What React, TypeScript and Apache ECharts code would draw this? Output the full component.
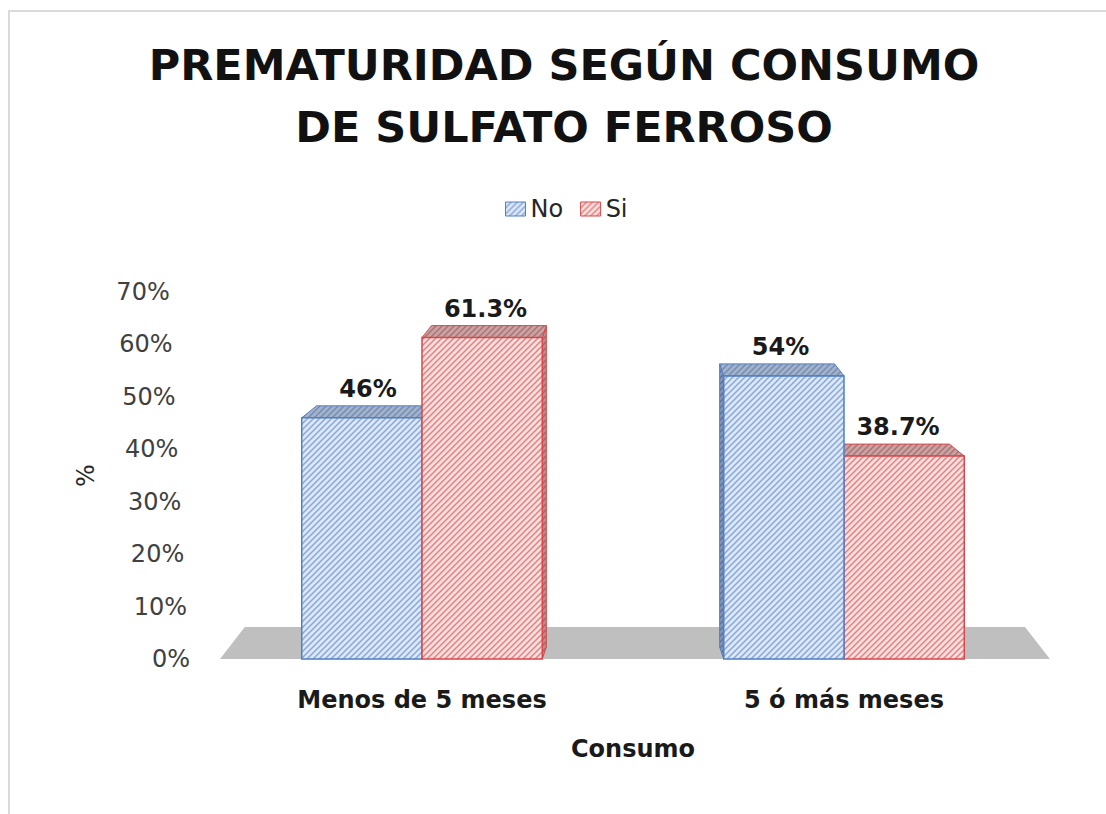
import React, { useEffect, useRef } from 'react';
import * as echarts from 'echarts';

const categories = ['Menos de 5 meses', '5 ó más meses'];
const seriesNames = ['No', 'Si'];
const noValues = [46, 54];
const siValues = [61.3, 38.7];
const yTicks = [0, 10, 20, 30, 40, 50, 60, 70];

const FONT = 'DejaVu Sans';
const PERSP = 0.955;
const DEPTH = -12;

function makePattern(bg: string, line: string, size = 6, lw = 1.5) {
  const c = document.createElement('canvas');
  c.width = size;
  c.height = size;
  const ctx = c.getContext('2d') as CanvasRenderingContext2D;
  ctx.fillStyle = bg;
  ctx.fillRect(0, 0, size, size);
  ctx.strokeStyle = line;
  ctx.lineWidth = lw;
  ctx.beginPath();
  ctx.moveTo(0, size);
  ctx.lineTo(size, 0);
  ctx.moveTo(-1, 1);
  ctx.lineTo(1, -1);
  ctx.moveTo(size - 1, size + 1);
  ctx.lineTo(size + 1, size - 1);
  ctx.stroke();
  return { image: c, repeat: 'repeat' };
}

export default function App() {
  const ref = useRef<HTMLDivElement>(null);
  useEffect(() => {
    if (!ref.current) return;
    const chart = echarts.init(ref.current, null, { renderer: 'svg' });

    const styles = [
      {
        front: makePattern('#dde7f5', '#86a8dc'),
        top: makePattern('#a3b3cc', '#778cb0'),
        side: makePattern('#7f95bb', '#5a72a0'),
        border: '#4f7fc4',
      },
      {
        front: makePattern('#fbe0e0', '#e48080'),
        top: makePattern('#cba3a3', '#a87474'),
        side: makePattern('#b88f8f', '#9a6a6a'),
        border: '#d9474a',
      },
    ];

    const barRender = (k: number) => (params: any, api: any) => {
      const cs = params.coordSys;
      const cx = cs.x + cs.width / 2;
      const catIdx = api.value(0);
      const val = api.value(1);
      const top = api.coord([catIdx, val]);
      const base = api.coord([catIdx, 0]);
      const bandW = api.size([1, 0])[0];
      const bw = bandW * 0.285;
      const x0 = top[0] + (k === 0 ? -bw : 0);
      const x1 = x0 + bw;
      const yt = top[1];
      const yb = base[1];
      const bx0 = cx + (x0 - cx) * PERSP;
      const bx1 = cx + (x1 - cx) * PERSP;
      const dist = Math.abs((x0 + x1) / 2 - cx);
      const z = Math.round(2000 - dist) * 3;
      const st = styles[k];
      const children: any[] = [];
      if (x1 < cx) {
        children.push({
          type: 'polygon',
          z2: z,
          shape: { points: [[x1, yt], [bx1, yt + DEPTH], [bx1, yb + DEPTH], [x1, yb]] },
          style: { fill: st.side, stroke: st.border, lineWidth: 1 },
        });
      } else if (x0 > cx) {
        children.push({
          type: 'polygon',
          z2: z,
          shape: { points: [[x0, yt], [bx0, yt + DEPTH], [bx0, yb + DEPTH], [x0, yb]] },
          style: { fill: st.side, stroke: st.border, lineWidth: 1 },
        });
      }
      children.push({
        type: 'polygon',
        z2: z + 1,
        shape: { points: [[x0, yt], [x1, yt], [bx1, yt + DEPTH], [bx0, yt + DEPTH]] },
        style: { fill: st.top, stroke: st.border, lineWidth: 1 },
      });
      children.push({
        type: 'rect',
        z2: z + 2,
        shape: { x: x0, y: yt, width: bw, height: yb - yt },
        style: { fill: st.front, stroke: st.border, lineWidth: 1.5 },
      });
      children.push({
        type: 'text',
        z2: 100000,
        style: {
          text: val + '%',
          x: (x0 + x1 + bx0 + bx1) / 4,
          y: yt + DEPTH - 5,
          align: 'center',
          verticalAlign: 'bottom',
          fontSize: 24,
          fontWeight: 'bold',
          fontFamily: FONT,
          fill: '#1a1a1a',
        },
      });
      return { type: 'group', children };
    };

    const floorRender = (params: any, api: any) => {
      const cs = params.coordSys;
      const yb = api.coord([0, 0])[1];
      const cx = cs.x + cs.width / 2;
      const fx0 = cs.x + 9;
      const fx1 = cs.x + cs.width - 5;
      const s = 0.94;
      const d = -32;
      return {
        type: 'polygon',
        shape: {
          points: [
            [fx0, yb],
            [fx1, yb],
            [cx + (fx1 - cx) * s, yb + d],
            [cx + (fx0 - cx) * s, yb + d],
          ],
        },
        style: { fill: '#bfbfbf' },
      };
    };

    const rich: any = {};
    yTicks.forEach((t, i) => {
      rich['p' + i] = {
        fontSize: 24,
        fontFamily: FONT,
        color: '#404040',
        padding: [0, i * 2.9, 0, 0],
      };
    });

    const seriesData = [noValues, siValues];

    chart.setOption({
      animation: false,
      backgroundColor: '#ffffff',
      graphic: [
        {
          type: 'rect',
          shape: { x: 9, y: 11, width: 1120, height: 830 },
          style: { fill: 'none', stroke: '#dadada', lineWidth: 2 },
          silent: true,
        },
      ],
      title: {
        text: 'PREMATURIDAD SEGÚN CONSUMO\nDE SULFATO FERROSO',
        left: 559,
        top: 29,
        textAlign: 'center',
        textStyle: {
          fontSize: 43,
          fontWeight: 'bold',
          fontFamily: FONT,
          color: '#111111',
          lineHeight: 62,
        },
      },
      legend: {
        left: 500,
        top: 192,
        itemWidth: 20,
        itemHeight: 14,
        itemGap: 17,
        textStyle: { fontSize: 24, fontFamily: FONT, color: '#262626' },
        data: seriesNames.map((n, k) => ({
          name: n,
          icon: 'rect',
          itemStyle: { color: styles[k].front, borderColor: styles[k].border, borderWidth: 1 },
        })),
      },
      grid: { left: 211, right: 51, top: 292, bottom: 155 },
      xAxis: {
        type: 'category',
        data: categories,
        axisLine: { show: false },
        axisTick: { show: false },
        axisLabel: {
          margin: 29,
          fontSize: 24,
          fontWeight: 'bold',
          fontFamily: FONT,
          color: '#1a1a1a',
        },
        name: 'Consumo',
        nameLocation: 'middle',
        nameGap: 78,
        nameTextStyle: { fontSize: 24, fontWeight: 'bold', fontFamily: FONT, color: '#1a1a1a' },
      },
      yAxis: {
        type: 'value',
        min: 0,
        max: 70,
        interval: 10,
        axisLine: { show: false },
        axisTick: { show: false },
        splitLine: { show: false },
        axisLabel: {
          margin: 21,
          formatter: (v: number) => `{p${Math.round(v / 10)}|${v}%}`,
          rich,
        },
        name: '%',
        nameLocation: 'middle',
        nameGap: 113,
        nameTextStyle: { fontSize: 24, fontFamily: FONT, color: '#262626' },
      },
      series: [
        {
          type: 'custom',
          name: 'floor',
          z: 1,
          silent: true,
          renderItem: floorRender,
          data: [[0, 0]],
          encode: { x: 0, y: 1 },
        },
        ...seriesNames.map((n, k) => ({
          type: 'custom',
          name: n,
          z: 2,
          renderItem: barRender(k),
          itemStyle: { color: styles[k].front, borderColor: styles[k].border },
          data: seriesData[k].map((v, i) => [i, v]),
          encode: { x: 0, y: 1 },
        })),
      ],
    });
    return () => chart.dispose();
  }, []);
  return (
    <div
      ref={ref}
      style={{ position: 'fixed', left: 0, top: 0, width: 1106, height: 814 }}
    />
  );
}
